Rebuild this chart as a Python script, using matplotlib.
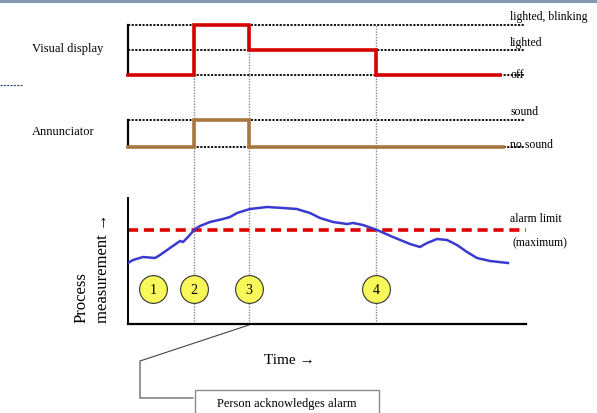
import matplotlib
matplotlib.use("Agg")
import matplotlib.pyplot as plt
from matplotlib.patches import Rectangle

# ---------------- data ----------------
events = [16.6, 30.4, 62.4]                 # times of marker 2, 3, 4
marker_times = [6.3, 16.6, 30.4, 62.4]       # circled numbers 1..4
marker_labels = ["1", "2", "3", "4"]
marker_value = 35

visual_levels = ["off", "lighted", "lighted, blinking"]
visual_t = [0, 16.6, 30.4, 62.4, 93.5]
visual_v = [0, 2, 1, 0, 0]

ann_levels = ["no sound", "sound"]
ann_t = [0, 16.6, 30.4, 94.2]
ann_v = [0, 1, 0, 0]

proc_t = [0, 1.26, 3.77, 6.78, 8.04, 10.55, 13.07, 13.82, 15.08, 16.83, 18.09,
          20.60, 23.87, 25.63, 27.39, 30.65, 34.92, 38.94, 42.46, 43.22, 45.73,
          48.24, 51.51, 55.03, 56.53, 59.05, 62.56, 66.58, 70.85, 73.37, 75.13,
          77.64, 80.15, 82.66, 85.18, 87.69, 90.95, 95.48]
proc_v = [61, 64, 67, 66, 69, 76, 83, 82, 87, 95, 98, 102, 105, 107, 111, 115,
          117, 116, 115, 114, 111, 106, 102, 100, 101, 99, 94, 87, 80, 77, 81,
          85, 84, 79, 72, 66, 63, 61]
alarm_limit = 94

W, H = 597, 413
SERIF = "Liberation Serif"
plt.rcParams["font.family"] = [SERIF, "DejaVu Serif"]

fig = plt.figure(figsize=(W / 100, H / 100), dpi=100)

def rect(x0, y0, x1, y1):
    """pixel box (top-left origin) -> figure fraction rect"""
    return [x0 / W, 1 - y1 / H, (x1 - x0) / W, (y1 - y0) / H]

XL, XR = 128, 526
XLIM = (0, 100)

# overlay for vertical dotted event lines
ov = fig.add_axes(rect(XL, 25, XR, 324), zorder=0)
ov.set_xlim(*XLIM); ov.set_ylim(0, 1); ov.axis("off")
for t in events:
    ov.axvline(t, color="#8a8a8a", lw=1.0, ls=(0, (1, 1)))

def level_panel(y0, y1, levels, t, v, color, offs):
    ax = fig.add_axes(rect(XL, y0, XR, y1), zorder=2)
    ax.patch.set_visible(False)
    ax.set_xlim(*XLIM)
    ax.set_ylim(0, len(levels) - 1)
    for s in ["top", "right", "bottom"]:
        ax.spines[s].set_visible(False)
    ax.spines["left"].set_linewidth(1.6)
    ax.set_xticks([]); ax.set_yticks([])
    for i, lab in enumerate(levels):
        ax.plot([0, 99.5], [i, i], color="black", lw=1.3, ls=(0, (1.2, 0.8)),
                clip_on=False, zorder=1)
        ax.text(96, i + offs[i], lab, fontsize=8.5, va="center", ha="left")
    ax.step(t, v, where="post", color=color, lw=2.6, clip_on=False, zorder=3,
            solid_joinstyle="miter")
    return ax

ax_vis = level_panel(25, 75, visual_levels, visual_t, visual_v, "#d40000",
                     [0.0, 0.28, 0.32])
ax_ann = level_panel(120, 147, ann_levels, ann_t, ann_v, "#a8773f",
                     [0.08, 0.3])

fig.text(32 / W, 1 - 49 / H, "Visual display", fontsize=9, va="center", ha="left")
fig.text(32 / W, 1 - 132 / H, "Annunciator", fontsize=9, va="center", ha="left")

# process panel
ax = fig.add_axes(rect(XL, 198, XR, 324), zorder=2)
ax.patch.set_visible(False)
ax.set_xlim(*XLIM); ax.set_ylim(0, 126)
for s in ["top", "right"]:
    ax.spines[s].set_visible(False)
ax.spines["left"].set_linewidth(1.4)
ax.spines["bottom"].set_linewidth(1.6)
ax.set_xticks([]); ax.set_yticks([])
ax.axhline(alarm_limit, color="#e00000", lw=2.6, ls=(0, (2.8, 1.6)), zorder=2)
ax.plot(proc_t, proc_v, color="#3a3ad0", lw=1.8, zorder=3,
        solid_joinstyle="round")
ax.scatter(marker_times, [marker_value] * 4, s=400, facecolor="#f8f85a",
           edgecolor="#333333", lw=0.8, zorder=4)
for t, lab in zip(marker_times, marker_labels):
    ax.text(t, marker_value - 1, lab, fontsize=10, ha="center", va="center", zorder=5)
ax.text(96, alarm_limit + 11, "alarm limit", fontsize=8.5, ha="left", va="center")
ax.text(96.5, alarm_limit - 13, "(maximum)", fontsize=8.5, ha="left", va="center")

fig.text(92 / W, 1 - 323 / H, "Process\nmeasurement \u2192", fontsize=12,
         rotation=90, rotation_mode="anchor", ha="left", va="center",
         multialignment="left", linespacing=1.45, family=[SERIF, "DejaVu Sans"])
fig.text(289 / W, 1 - 360 / H, "Time \u2192", fontsize=11, ha="center", va="center",
         family=[SERIF, "DejaVu Sans"])

# annotation overlay in pixel coordinates
an = fig.add_axes([0, 0, 1, 1], zorder=1)
an.set_xlim(0, W); an.set_ylim(H, 0); an.axis("off")
an.plot([0, W], [1, 1], color="#8399b1", lw=2.2)
an.plot([0, 22], [85, 85], color="#2a4a7a", lw=0.8, ls=(0, (2, 1)))
an.plot([249, 140, 140, 193], [325, 361, 398, 398], color="#444444", lw=0.8)
an.add_patch(Rectangle((195, 390), 184, 30, facecolor="white",
                       edgecolor="#8a8a8a", lw=1.0, clip_on=False))
an.text(287, 404, "Person acknowledges alarm", fontsize=9, ha="center", va="center")

fig.savefig("out.png", dpi=100)
